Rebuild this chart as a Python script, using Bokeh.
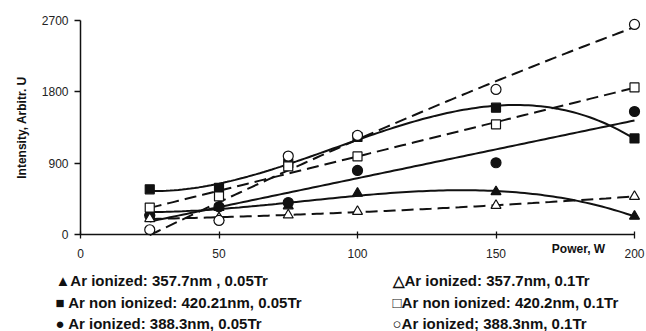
import numpy as np
from bokeh.plotting import figure
from bokeh.models import Range1d, FixedTicker
from bokeh.core.properties import value
from bokeh.embed import file_html
from bokeh.resources import INLINE

# Discharge power (W) and line intensities (arbitrary units)
power = [25, 50, 75, 100, 150, 200]
ion357_005 = [280, 340, 360, 520, 540, 230]
ion357_01 = [200, 210, 245, 290, 366, 480]
non420_005 = [570, 590, 900, 1230, 1600, 1212]
non420_01 = [340, 480, 860, 985, 1390, 1855]
ion388_005 = [240, 350, 404, 808, 905, 1552]
ion388_01 = [60, 177, 990, 1250, 1830, 2650]

x_ticks = [0, 50, 100, 150, 200]
y_ticks = [0, 900, 1800, 2700]

legend_left = [
    "\u25b2Ar ionized: 357.7nm , 0.05Tr",
    "\u25a0 Ar non ionized: 420.21nm, 0.05Tr",
    "\u25cf Ar ionized: 388.3nm, 0.05Tr",
]
legend_right = [
    "\u25b3Ar ionized: 357.7nm, 0.1Tr",
    "\u25a1Ar non ionized: 420.2nm, 0.1Tr",
    "\u25cbAr ionized; 388.3nm, 0.1Tr",
]

# (values, marker, filled, trend degree, dashed)
series = [
    (ion357_005, "triangle", True, 3, False),
    (non420_005, "square", True, 3, False),
    (ion388_005, "circle", True, 1, False),
    (ion357_01, "triangle", False, 2, True),
    (non420_01, "square", False, 1, True),
    (ion388_01, "circle", False, 2, True),
]

W, H = 646, 331
AXIS_PX = 80             # pixel column of the y axis (x = 0)
AXIS_PY = 234            # pixel row of the x axis (y = 0)
X_PER_PX = 200 / 554     # 0..200 W spans 554 px
Y_PER_PX = 2700 / 214    # 0..2700 spans 214 px


def px_x(px):
    return (px - AXIS_PX) * X_PER_PX


def px_y(py):
    return (AXIS_PY - py) * Y_PER_PX


# the plotting frame covers the whole canvas; both axes sit at the origin
p = figure(width=W, height=H,
           x_range=Range1d(px_x(0), px_x(W)), y_range=Range1d(px_y(H), px_y(0)),
           output_backend="svg", toolbar_location=None,
           min_border=0, min_border_left=0, min_border_right=0,
           min_border_top=0, min_border_bottom=0)
p.background_fill_color = "white"
p.outline_line_color = None
p.xgrid.visible = False
p.ygrid.visible = False

for ax in (p.xaxis, p.yaxis):
    ax.fixed_location = 0
    ax.axis_line_color = "#111111"
    ax.axis_line_width = 1.5
    ax.major_tick_line_color = "#111111"
    ax.major_tick_line_width = 1.3
    ax.minor_tick_line_color = None
    ax.major_label_text_font = "Liberation Sans"
    ax.major_label_text_font_size = "12px"
    ax.major_label_text_color = "#222222"

p.xaxis.bounds = (0, 200)
p.yaxis.bounds = (0, 2700)
p.xaxis.ticker = FixedTicker(ticks=x_ticks)
p.yaxis.ticker = FixedTicker(ticks=y_ticks)
p.xaxis.major_tick_in = 3
p.xaxis.major_tick_out = 4
p.yaxis.major_tick_in = 0
p.yaxis.major_tick_out = 6
p.xaxis.major_label_standoff = 10
p.yaxis.major_label_standoff = 6

p.yaxis.axis_label = "Intensity, Arbitr. U"
p.yaxis.axis_label_text_font = "Liberation Sans"
p.yaxis.axis_label_text_font_size = "12px"
p.yaxis.axis_label_text_font_style = "bold"
p.yaxis.axis_label_text_color = "#111111"
p.yaxis.axis_label_standoff = 10

# trend lines fitted to each series
xs = np.linspace(power[0], power[-1], 120)
for vals, marker, filled, deg, dashed in series:
    coef = np.polyfit(power, vals, deg)
    p.line(xs, np.polyval(coef, xs), line_color="#111111", line_width=2,
           line_dash="12 6" if dashed else "solid")

for vals, marker, filled, deg, dashed in series:
    p.scatter(power, vals, marker=marker, size=10 if marker != "square" else 9,
              fill_color="#111111" if filled else "white",
              line_color="#111111", line_width=1.2)

text_style = dict(text_font=value("Liberation Sans"), text_font_style="bold",
                  text_color="#111111", text_baseline="middle")

p.text(x=[px_x(578)], y=[px_y(248)], text=["Power, W"], text_align="center",
       text_font_size="12px", **text_style)

row_py = [280, 302, 323]
p.text(x=[px_x(55)] * 3, y=[px_y(v) for v in row_py], text=legend_left,
       text_align="left", text_font_size="15px", **text_style)
p.text(x=[px_x(392)] * 3, y=[px_y(v) for v in row_py], text=legend_right,
       text_align="left", text_font_size="15px", **text_style)

open("out.html", "w").write(file_html(p, INLINE))
